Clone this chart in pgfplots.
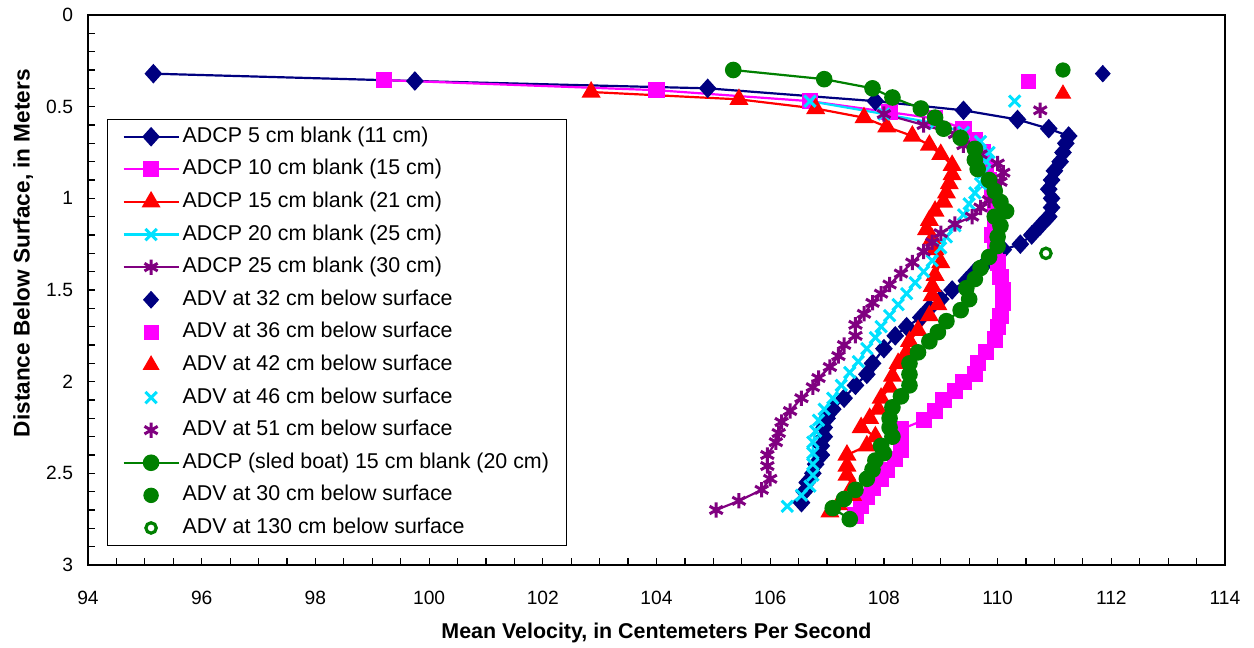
\documentclass[border=0pt]{standalone}
\usepackage{pgfplots}
\pgfplotsset{compat=1.18}
\usepackage{fontspec}
\setmainfont{Liberation Sans}
\definecolor{cnavy}{RGB}{0,0,128}
\definecolor{cmag}{RGB}{255,0,255}
\definecolor{cred}{RGB}{255,0,0}
\definecolor{ccyan}{RGB}{0,225,255}
\definecolor{cpurp}{RGB}{128,0,128}
\definecolor{cgreen}{RGB}{0,128,0}
\begin{document}
\begin{tikzpicture}
\begin{axis}[
  scale only axis, width=568.5pt, height=275pt,
  xmin=94, xmax=114, ymin=0, ymax=3, y dir=reverse,
  xtick={94,96,...,114}, minor x tick num=3,
  ytick={0,0.5,1,1.5,2,2.5,3}, minor y tick num=4,
  tick align=inside, xtick pos=bottom, ytick pos=left,
  major tick length=3.4pt, minor tick length=3.4pt,
  axis line style={line width=1.3pt},
  every tick/.style={black, line width=0.6pt},
  /pgf/number format/assume math mode=true,
  ticklabel style={font=\fontsize{9.6}{11}\selectfont},
  xticklabel style={yshift=-9.5pt},
  yticklabel style={xshift=-4pt},
  xlabel={Mean Velocity, in Centemeters Per Second},
  xlabel style={font=\bfseries\fontsize{10.7}{12}\selectfont, at={(axis description cs:0.5,-0.1236)}, anchor=center},
  ylabel={Distance Below Surface, in Meters},
  ylabel style={font=\bfseries\fontsize{11.3}{13}\selectfont, at={(axis description cs:-0.057,0.567)}, anchor=center},
  legend style={at={(axis description cs:0.0167,0.811)}, anchor=north west, draw=black, line width=0.5pt,
    font=\fontsize{10.7}{12}\selectfont, cells={anchor=west}, row sep=0pt, column sep=0pt,
    inner xsep=7.5pt, inner ysep=0.5pt,
    nodes={text height=8pt, text depth=2.5pt, inner ysep=2.9pt, inner xsep=1.5pt}},
  legend image code/.code={\draw[mark repeat=2,mark phase=2,#1] plot coordinates {(0pt,0pt)(13.75pt,0pt)(27.5pt,0pt)};},
]
% ADCP 5 cm
\addplot[color=cnavy, line width=1.1pt, mark=diamond*, mark size=4.1pt, mark options={xscale=1.2, solid}] coordinates {
(95.15,0.32)(99.75,0.36)(104.9,0.40)(107.85,0.47)(109.4,0.52)(110.35,0.57)(110.9,0.62)(111.25,0.66)(111.2,0.70)(111.15,0.75)(111.1,0.80)(111.0,0.85)(110.95,0.90)(110.9,0.95)(110.95,1.00)(110.95,1.05)(110.9,1.10)(110.75,1.15)(110.6,1.20)(110.4,1.25)(110.1,1.28)(109.8,1.35)(109.6,1.40)(109.45,1.45)(109.2,1.50)(109.0,1.55)(108.8,1.60)(108.65,1.65)(108.4,1.70)(108.2,1.75)(108.0,1.82)(107.8,1.90)(107.7,1.96)(107.5,2.02)(107.3,2.09)(107.1,2.15)(107.0,2.20)(106.95,2.25)(106.95,2.30)(106.9,2.35)(106.9,2.40)(106.8,2.45)(106.75,2.50)(106.65,2.55)(106.6,2.60)(106.55,2.66)};
\addlegendentry{ADCP 5 cm blank (11 cm)}
% ADCP 10 cm
\addplot[color=cmag, line width=1.1pt, mark=square*, mark size=3.5pt, mark options={solid}] coordinates {
(99.2,0.355)(104.0,0.41)(106.7,0.47)(108.1,0.53)(108.9,0.565)(109.4,0.62)(109.6,0.68)(109.75,0.75)(109.8,0.82)(109.85,0.90)(109.9,0.97)(109.95,1.05)(109.95,1.13)(109.9,1.20)(109.95,1.27)(110.0,1.35)(110.05,1.43)(110.1,1.50)(110.1,1.57)(110.05,1.64)(110.0,1.70)(109.95,1.77)(109.8,1.84)(109.65,1.90)(109.6,1.96)(109.4,2.00)(109.25,2.05)(109.05,2.10)(108.9,2.16)(108.7,2.21)(108.3,2.26)(108.3,2.32)(108.3,2.37)(108.2,2.42)(108.05,2.48)(107.95,2.53)(107.8,2.58)(107.7,2.63)(107.6,2.68)(107.5,2.73)};
\addlegendentry{ADCP 10 cm blank (15 cm)}
% ADCP 15 cm
\addplot[color=cred, line width=1.1pt, mark=triangle*, mark size=4.4pt, mark options={solid}] coordinates {
(102.85,0.42)(105.45,0.46)(106.8,0.51)(107.65,0.56)(108.05,0.61)(108.5,0.66)(108.8,0.71)(109.0,0.76)(109.2,0.82)(109.2,0.87)(109.15,0.92)(109.1,0.97)(109.05,1.02)(108.9,1.07)(108.8,1.12)(108.75,1.17)(108.85,1.22)(108.9,1.28)(109.0,1.35)(108.9,1.42)(108.85,1.48)(108.85,1.53)(108.95,1.58)(108.8,1.64)(108.6,1.72)(108.45,1.78)(108.4,1.84)(108.25,1.90)(108.15,1.97)(108.1,2.03)(107.95,2.09)(107.9,2.15)(107.75,2.20)(107.6,2.25)(107.85,2.30)(107.7,2.35)(107.35,2.40)(107.35,2.46)(107.35,2.51)(107.45,2.57)(107.45,2.62)(107.2,2.67)(107.05,2.71)};
\addlegendentry{ADCP 15 cm blank (21 cm)}
% ADCP 20 cm
\addplot[color=ccyan, line width=1.1pt, mark=x, mark size=4pt, mark options={solid, line width=1.5pt}] coordinates {
(106.7,0.47)(108.0,0.54)(108.9,0.59)(109.4,0.64)(109.7,0.69)(109.85,0.75)(109.8,0.80)(109.75,0.86)(109.7,0.92)(109.6,0.97)(109.5,1.03)(109.4,1.09)(109.25,1.15)(109.1,1.21)(109.0,1.27)(108.85,1.34)(108.7,1.40)(108.55,1.46)(108.4,1.52)(108.25,1.58)(108.1,1.64)(107.95,1.70)(107.85,1.76)(107.7,1.82)(107.55,1.89)(107.4,1.95)(107.25,2.02)(107.1,2.09)(106.95,2.15)(106.85,2.21)(106.8,2.27)(106.75,2.33)(106.75,2.39)(106.75,2.45)(106.75,2.51)(106.7,2.57)(106.55,2.62)(106.3,2.68)};
\addlegendentry{ADCP 20 cm blank (25 cm)}
% ADCP 25 cm
\addplot[color=cpurp, line width=1.1pt, mark=asterisk, mark size=3.8pt, mark options={solid, line width=1.5pt}] coordinates {
(108.0,0.54)(108.7,0.60)(109.25,0.65)(109.4,0.71)(109.7,0.76)(110.0,0.81)(110.1,0.86)(110.05,0.91)(109.95,0.96)(109.85,1.01)(109.7,1.05)(109.55,1.10)(109.25,1.14)(109.0,1.19)(108.85,1.24)(108.7,1.29)(108.5,1.35)(108.3,1.41)(108.1,1.47)(107.95,1.52)(107.8,1.57)(107.65,1.63)(107.5,1.69)(107.5,1.75)(107.3,1.80)(107.2,1.86)(107.05,1.92)(106.85,1.98)(106.75,2.03)(106.55,2.09)(106.35,2.16)(106.2,2.22)(106.15,2.28)(106.1,2.33)(105.95,2.40)(105.95,2.46)(106.0,2.53)(105.85,2.59)(105.45,2.65)(105.05,2.70)};
\addlegendentry{ADCP 25 cm blank (30 cm)}
% ADV points
\addplot[only marks, color=cnavy, mark=diamond*, mark size=4.1pt, mark options={xscale=1.2}] coordinates {(111.85,0.32)};
\addlegendentry{ADV at 32 cm below surface}
\addplot[only marks, color=cmag, mark=square*, mark size=3.5pt] coordinates {(110.55,0.36)};
\addlegendentry{ADV at 36 cm below surface}
\addplot[only marks, color=cred, mark=triangle*, mark size=4.4pt] coordinates {(111.15,0.43)};
\addlegendentry{ADV at 42 cm below surface}
\addplot[only marks, color=ccyan, mark=x, mark size=4pt, mark options={line width=1.5pt}] coordinates {(110.3,0.47)};
\addlegendentry{ADV at 46 cm below surface}
\addplot[only marks, color=cpurp, mark=asterisk, mark size=3.8pt, mark options={line width=1.5pt}] coordinates {(110.75,0.52)};
\addlegendentry{ADV at 51 cm below surface}
% sled boat
\addplot[color=cgreen, line width=1.1pt, mark=*, mark size=3.6pt, mark options={solid}] coordinates {
(105.35,0.30)(106.95,0.35)(107.8,0.40)(108.15,0.45)(108.65,0.51)(108.9,0.56)(109.05,0.62)(109.35,0.67)(109.6,0.73)(109.6,0.79)(109.65,0.84)(109.85,0.90)(109.95,0.96)(110.05,1.02)(110.15,1.07)(109.95,1.10)(110.05,1.15)(110.0,1.21)(110.0,1.26)(109.85,1.32)(109.7,1.38)(109.6,1.44)(109.45,1.49)(109.5,1.55)(109.35,1.61)(109.1,1.67)(108.95,1.73)(108.8,1.78)(108.6,1.84)(108.45,1.90)(108.45,1.96)(108.45,2.02)(108.3,2.08)(108.15,2.14)(108.1,2.20)(108.1,2.25)(108.15,2.30)(107.95,2.35)(108.0,2.39)(107.85,2.43)(107.8,2.48)(107.7,2.53)(107.5,2.59)(107.3,2.64)(107.1,2.69)(107.4,2.75)};
\addlegendentry{ADCP (sled boat) 15 cm blank (20 cm)}
\addplot[only marks, color=cgreen, mark=*, mark size=3.6pt] coordinates {(111.15,0.30)};
\addlegendentry{ADV at 30 cm below surface}
\addplot[only marks, color=cgreen, mark=o, mark size=2.6pt, mark options={line width=1.6pt, fill=white}] coordinates {(110.85,1.30)};
\addlegendentry{ADV at 130 cm below surface}
\end{axis}
\pgfresetboundingbox
\path[use as bounding box] ([xshift=-44pt,yshift=-41.5pt]current axis.south west) rectangle ([xshift=14.5pt,yshift=7.5pt]current axis.north east);
\end{tikzpicture}
\end{document}
